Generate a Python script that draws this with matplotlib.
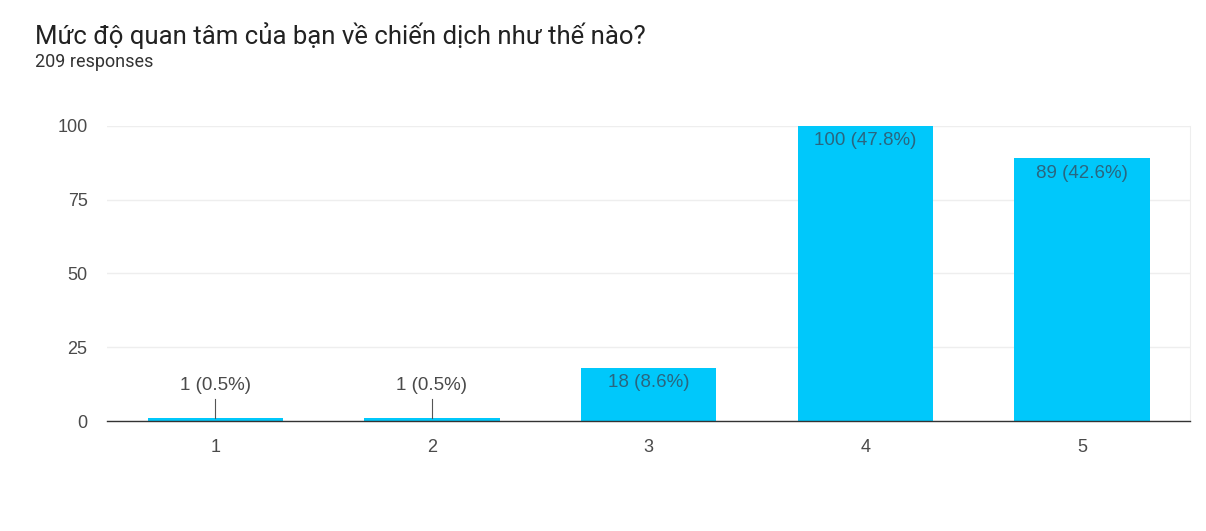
import matplotlib.pyplot as plt

plt.rcParams['font.family'] = ['Liberation Sans', 'DejaVu Sans']

title = 'Mức độ quan tâm của bạn về chiến dịch như thế nào?'
subtitle = '209 responses'
categories = ['1', '2', '3', '4', '5']
counts = [1, 1, 18, 100, 89]
percents = [0.5, 0.5, 8.6, 47.8, 42.6]
y_ticks = [0, 25, 50, 75, 100]

BAR_COLOR = '#00c8fb'
TEXT_GREY = '#4a4a4a'

fig = plt.figure(figsize=(12.06, 5.31), dpi=100)
ax = fig.add_axes([0.0887, 0.207, 0.8983, 0.556])

x = list(range(len(categories)))
ax.bar(x, counts, width=0.625, color=BAR_COLOR, zorder=2)

# small bars get the label above with a leader line, big ones inside the top
for xi, c, p in zip(x, counts, percents):
    label = f'{c} ({p}%)'
    if c < 10:
        ax.plot([xi, xi], [c, c + 6.5], color='#555555', lw=0.8, zorder=3)
        ax.text(xi, c + 11, label, ha='center', va='center',
                fontsize=13.5, color=TEXT_GREY, zorder=4)
    else:
        ax.text(xi, c - 2.2, label, ha='center', va='top',
                fontsize=13.5, color='#2a6680', zorder=4)

ax.set_xlim(-0.5, 4.5)
ax.set_ylim(0, 100)
ax.set_xticks(x)
ax.set_xticklabels(categories)
ax.set_yticks(y_ticks)
ax.tick_params(axis='both', length=0, labelsize=13, labelcolor=TEXT_GREY)
ax.tick_params(axis='x', pad=13)
ax.tick_params(axis='y', pad=14)

ax.yaxis.grid(True, color='#eeeeee', lw=1, zorder=0)
ax.set_axisbelow(True)
for side in ['top', 'left']:
    ax.spines[side].set_visible(False)
ax.spines['right'].set_color('#eeeeee')
ax.spines['bottom'].set_color('#333333')
ax.spines['bottom'].set_linewidth(1.0)
ax.spines['bottom'].set_zorder(5)

fig.text(0.029, 0.934, title, fontsize=18.5, color='#222222', va='center',
         family=['Roboto', 'DejaVu Sans'])
fig.text(0.029, 0.883, subtitle, fontsize=13, color='#333333', va='center',
         family=['Roboto', 'DejaVu Sans'])

fig.savefig('out.png', dpi=100, facecolor='white')
